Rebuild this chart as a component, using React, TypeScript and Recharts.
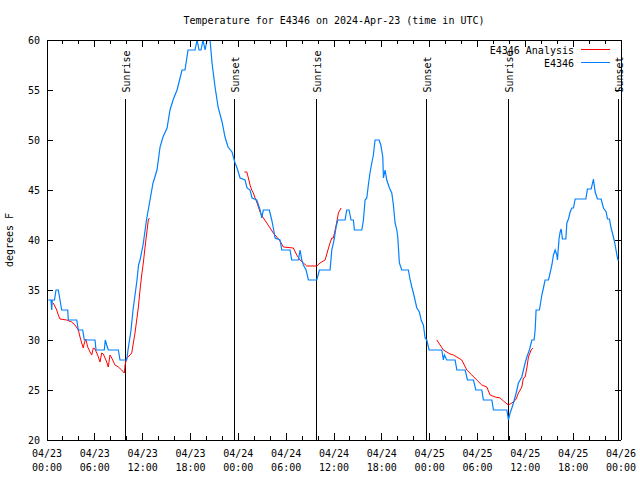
import { LineChart, Line, XAxis, YAxis, ReferenceLine, Legend } from "recharts"

const FONT = "'DejaVu Sans Mono', monospace"

// hours since 04/23 00:00 UTC, degrees F
const stationReadings: [number, number][] = [
  [0.16, 34], [0.5, 34], [0.59, 33], [0.66, 34], [0.94, 34], [1.13, 35], [1.42, 35],
  [1.63, 34], [1.84, 33], [2.6, 33], [2.67, 32], [3.73, 32], [3.93, 31], [4.48, 31],
  [4.68, 30], [6.02, 30], [6.15, 29], [7.19, 29], [7.31, 30], [7.49, 29.5], [7.69, 29],
  [8.95, 29], [9.16, 28], [10.0, 28], [10.16, 29], [10.54, 31], [10.79, 33], [11.04, 34.5],
  [11.29, 36], [11.48, 37.5], [11.67, 38], [12.05, 39.5], [12.48, 42], [12.92, 44],
  [13.3, 45.7], [13.8, 47], [14.18, 49.3], [14.55, 50.3], [15.06, 51.2], [15.43, 53],
  [15.81, 54], [16.31, 55], [16.69, 56.2], [16.94, 57], [17.31, 57], [17.69, 59],
  [18.57, 59], [18.82, 60], [19.07, 59], [19.32, 59], [19.57, 60], [19.82, 59],
  [20.08, 60], [20.45, 60], [20.7, 57.7], [21.08, 55.3], [21.46, 53.3], [21.96, 51.8],
  [22.33, 50.3], [22.71, 49.3], [23.21, 48.8], [23.59, 47.7], [23.84, 47.2], [24.22, 46.2],
  [24.84, 46], [25.09, 45.2], [25.47, 45], [25.72, 44.2], [26.31, 44], [26.73, 43],
  [26.94, 42.2], [27.14, 43], [27.89, 43], [28.19, 42], [28.39, 41.2], [28.61, 40.2],
  [29.23, 40], [29.45, 39], [30.49, 39], [30.7, 38], [31.53, 38], [31.74, 39], [31.96, 38],
  [32.16, 37.5], [32.5, 37], [32.79, 36], [33.84, 36], [34.17, 37], [35.51, 37],
  [35.72, 39], [36.01, 40], [36.26, 41.3], [36.47, 42], [37.39, 42], [37.6, 43],
  [37.89, 43], [38.14, 42], [38.43, 42], [38.56, 41], [39.49, 41], [39.69, 42],
  [39.9, 44], [40.11, 44.2], [40.31, 45.5], [40.53, 46.8], [40.74, 47.7], [40.94, 48.5],
  [41.15, 50], [41.66, 50], [41.87, 49.5], [42.12, 48.3], [42.2, 46.2], [42.41, 47],
  [42.62, 46], [42.95, 45.2], [43.25, 44.7], [43.45, 43.5], [43.66, 41.7], [43.88, 41],
  [44.0, 40.3], [44.2, 37.7], [44.5, 37], [45.33, 37], [45.55, 36], [45.76, 35.3],
  [45.96, 34.7], [46.39, 33.2], [46.71, 32.8], [46.93, 32], [47.21, 31.5], [47.43, 30.2],
  [47.64, 30], [47.93, 29], [49.52, 29], [49.72, 28], [49.85, 28.5], [50.15, 28],
  [51.19, 28], [51.41, 27], [52.45, 27], [52.74, 26], [53.49, 26], [53.79, 25],
  [54.54, 25], [54.74, 24], [55.8, 24], [56.0, 23], [57.68, 23], [57.88, 22],
  [58.09, 22.7], [58.31, 23.2], [58.51, 23.7], [58.85, 24.7], [59.13, 25.7], [59.56, 26.3],
  [59.97, 27.7], [60.19, 28.3], [60.51, 29], [60.82, 30], [61.1, 30], [61.23, 31],
  [61.35, 33], [61.77, 33], [62.07, 34.5], [62.27, 35.2], [62.48, 36], [62.9, 36],
  [63.11, 36.7], [63.33, 37.5], [63.53, 38.5], [63.74, 39], [63.95, 38.5], [64.03, 38],
  [64.12, 39], [64.24, 40.2], [64.37, 40.8], [64.49, 41.1], [64.66, 40.1], [65.08, 40.1],
  [65.21, 41.7], [65.41, 42.1], [65.62, 42.8], [65.83, 43.2], [66.04, 43.2], [66.25, 44.1],
  [67.59, 44.1], [67.79, 45.1], [68.26, 45.1], [68.47, 45.8], [68.54, 46.1], [68.76, 44.8],
  [69.05, 44.1], [69.51, 44.1], [69.8, 43.2], [70.14, 42.8], [70.3, 42.1], [70.55, 42.1],
  [70.73, 41.3], [70.89, 40.8], [71.14, 40], [71.31, 39.3], [71.48, 38.5], [71.61, 38],
  [71.73, 38],
]

const analysisDay1: [number, number][] = [
  [0.79, 33.7], [1.22, 33], [1.42, 32.5], [1.63, 32.1], [2.47, 32], [3.1, 31.8],
  [3.51, 31.5], [3.93, 31], [4.14, 30.3], [4.35, 29.7], [4.55, 29.2], [4.68, 29.7],
  [4.86, 30.1], [5.11, 29.3], [5.4, 28.8], [5.61, 28.5], [5.81, 29.2], [6.02, 29.1],
  [6.24, 28.7], [6.44, 28.3], [6.65, 27.8], [6.86, 28.7], [7.06, 28.6], [7.28, 28.2],
  [7.49, 27.8], [7.69, 27.3], [7.9, 28.5], [8.12, 28.2], [8.53, 27.5], [8.95, 27.3],
  [9.37, 27], [9.7, 26.7], [9.79, 27.5], [10.0, 28.2], [10.29, 28.4], [10.63, 28.7],
  [10.83, 29.7], [11.04, 30.7], [11.25, 32], [11.46, 33.3], [11.67, 35], [11.88, 36.5],
  [12.08, 37.7], [12.3, 39.3], [12.51, 40.7], [12.71, 42], [12.84, 42.2],
]

const analysisDay2: [number, number][] = [
  [24.76, 46.8], [25.06, 46.8], [25.26, 46.2], [25.47, 45.5], [25.68, 45], [25.88, 44.7],
  [26.1, 44.2], [26.31, 43.8], [26.73, 42.8], [27.14, 42.2], [27.57, 41.7], [27.98, 41.2],
  [28.39, 40.7], [28.82, 40.3], [29.23, 39.9], [29.65, 39.3], [30.9, 39.2], [31.33, 38.5],
  [31.74, 38], [32.16, 37.7], [32.58, 37.4], [33.84, 37.4], [34.25, 37.7], [34.88, 38],
  [35.17, 38.8], [35.42, 39.5], [35.72, 40.2], [35.92, 40.2], [36.14, 41], [36.35, 41.8],
  [36.55, 42.7], [36.89, 43.2],
]

const analysisDay3: [number, number][] = [
  [48.9, 30], [49.31, 29.5], [49.72, 29], [50.15, 28.8], [50.56, 28.6], [50.98, 28.5],
  [51.41, 28.3], [52.03, 28], [52.66, 27], [53.29, 26.5], [53.91, 26], [54.54, 25.5],
  [55.17, 25.3], [55.58, 24.5], [56.21, 24.3], [56.84, 24.2], [57.25, 23.9], [57.88, 23.5],
  [58.09, 23.6], [58.51, 23.8], [58.85, 24.1], [59.13, 24.7], [59.56, 25.3], [59.76, 26.2],
  [59.97, 26.3], [60.19, 27.2], [60.39, 28.3], [60.73, 29], [60.97, 29.2],
]

const sunEvents = [
  { label: "Sunrise", h: 9.83 },
  { label: "Sunset", h: 23.5 },
  { label: "Sunrise", h: 33.8 },
  { label: "Sunset", h: 47.6 },
  { label: "Sunrise", h: 57.9 },
  { label: "Sunset", h: 71.7 },
]
const sunLineTop = 54.1

const tickDates = ["04/23", "04/23", "04/23", "04/23", "04/24", "04/24", "04/24", "04/24", "04/25", "04/25", "04/25", "04/25", "04/26"]
const tickTimes = ["00:00", "06:00", "12:00", "18:00", "00:00", "06:00", "12:00", "18:00", "00:00", "06:00", "12:00", "18:00", "00:00"]
const xTicks = Array.from({ length: 37 }, (_, i) => i * 2)
const yTicks = [20, 25, 30, 35, 40, 45, 50, 55, 60]

const legendOrder = ["E4346 Analysis", "E4346"]

const rows = (pts: [number, number][]) => pts.map(([h, v]) => ({ h, v }))
const stationData = rows(stationReadings)
const analysisData = [
  ...rows(analysisDay1),
  { h: 18, v: null },
  ...rows(analysisDay2),
  { h: 42, v: null },
  ...rows(analysisDay3),
]

const txt = { fontFamily: FONT, fontSize: 10, fill: "#000" }

function BottomTick({ x, y, payload }: any) {
  const h = payload.value
  const major = h % 6 === 0
  const i = h / 6
  return (
    <g>
      <line x1={x} x2={x} y1={y} y2={y - (major ? 7 : 4)} stroke="#000" shapeRendering="crispEdges" />
      {major && (
        <text x={x} y={y + 17} textAnchor="middle" {...txt}>
          <tspan x={x}>{tickDates[i]}</tspan>
          <tspan x={x} dy={14}>{tickTimes[i]}</tspan>
        </text>
      )}
    </g>
  )
}

function TopTick({ x, y, payload }: any) {
  const major = payload.value % 6 === 0
  return <line x1={x} x2={x} y1={y} y2={y + (major ? 7 : 4)} stroke="#000" shapeRendering="crispEdges" />
}

function LeftTick({ x, y, payload }: any) {
  return (
    <g>
      <line x1={x} x2={x + 6} y1={y} y2={y} stroke="#000" shapeRendering="crispEdges" />
      <text x={x - 7} y={y} dy="0.35em" textAnchor="end" {...txt}>{payload.value}</text>
    </g>
  )
}

function RightTick({ x, y }: any) {
  return <line x1={x} x2={x - 6} y1={y} y2={y} stroke="#000" shapeRendering="crispEdges" />
}

function TitleLabel({ viewBox }: any) {
  return (
    <text x={viewBox.x + viewBox.width / 2} y={viewBox.y + 24} textAnchor="middle" {...txt}>
      Temperature for E4346 on 2024-Apr-23 (time in UTC)
    </text>
  )
}

function YTitle({ viewBox }: any) {
  const x = viewBox.x + 13
  const y = viewBox.y + viewBox.height / 2
  return (
    <text x={x} y={y} transform={`rotate(-90 ${x} ${y})`} textAnchor="middle" {...txt}>
      degrees F
    </text>
  )
}

const sunLabel = (text: string) => ({ viewBox }: any) => {
  const x = viewBox.x + 4.5
  const y = viewBox.y - 6.5
  return (
    <text x={x} y={y} transform={`rotate(-90 ${x} ${y})`} {...txt}>
      {text}
    </text>
  )
}

function LegendBox({ payload }: any) {
  const items = [...(payload || [])].sort(
    (a: any, b: any) => legendOrder.indexOf(a.value) - legendOrder.indexOf(b.value)
  )
  return (
    <svg width={150} height={32} style={{ display: "block" }}>
      {items.map((p: any, i: number) => (
        <g key={p.value}>
          <text x={94} y={14 + i * 13} textAnchor="end" {...txt}>{p.value}</text>
          <line x1={101} x2={130} y1={9.5 + i * 13} y2={9.5 + i * 13} stroke={p.color} shapeRendering="crispEdges" />
        </g>
      ))}
    </svg>
  )
}

const axisLine = { stroke: "#000", shapeRendering: "crispEdges" }

export default function App() {
  return (
    <div style={{ position: "absolute", left: 0, top: 0, background: "#fff" }}>
      <LineChart width={640} height={480} margin={{ top: 0, right: 0, bottom: 0, left: 0 }}>
        <XAxis
          dataKey="h"
          type="number"
          domain={[0, 72]}
          ticks={xTicks}
          interval={0}
          height={40}
          tickSize={0}
          tickMargin={0}
          tickLine={false}
          axisLine={axisLine}
          tick={BottomTick}
          allowDataOverflow
        />
        <XAxis
          xAxisId="top"
          dataKey="h"
          orientation="top"
          type="number"
          domain={[0, 72]}
          ticks={xTicks}
          interval={0}
          height={40}
          tickSize={0}
          tickMargin={0}
          tickLine={false}
          axisLine={axisLine}
          tick={TopTick}
          label={TitleLabel}
          allowDataOverflow
        />
        <YAxis
          type="number"
          domain={[20, 60]}
          ticks={yTicks}
          interval={0}
          width={47}
          tickSize={0}
          tickMargin={0}
          tickLine={false}
          axisLine={axisLine}
          tick={LeftTick}
          label={YTitle}
          allowDataOverflow
        />
        <YAxis
          yAxisId="right"
          orientation="right"
          type="number"
          domain={[20, 60]}
          ticks={yTicks}
          interval={0}
          width={19}
          tickSize={0}
          tickMargin={0}
          tickLine={false}
          axisLine={axisLine}
          tick={RightTick}
          allowDataOverflow
        />
        {sunEvents.map((e, i) => (
          <ReferenceLine
            key={i}
            segment={[{ x: e.h, y: sunLineTop }, { x: e.h, y: 20 }]}
            stroke="#000"
            strokeWidth={1}
            shapeRendering="crispEdges"
            label={sunLabel(e.label)}
          />
        ))}
        <Line
          data={analysisData}
          dataKey="v"
          name="E4346 Analysis"
          type="linear"
          stroke="#ff0000"
          strokeWidth={1}
          dot={false}
          connectNulls={false}
          isAnimationActive={false}
        />
        <Line
          data={stationData}
          dataKey="v"
          name="E4346"
          type="linear"
          stroke="#0080ff"
          strokeWidth={1.2}
          dot={false}
          isAnimationActive={false}
        />
        <Legend
          layout="vertical"
          align="center"
          verticalAlign="middle"
          wrapperStyle={{ left: 480, top: 40, width: 150, height: 32 }}
          content={LegendBox}
        />
      </LineChart>
    </div>
  )
}
